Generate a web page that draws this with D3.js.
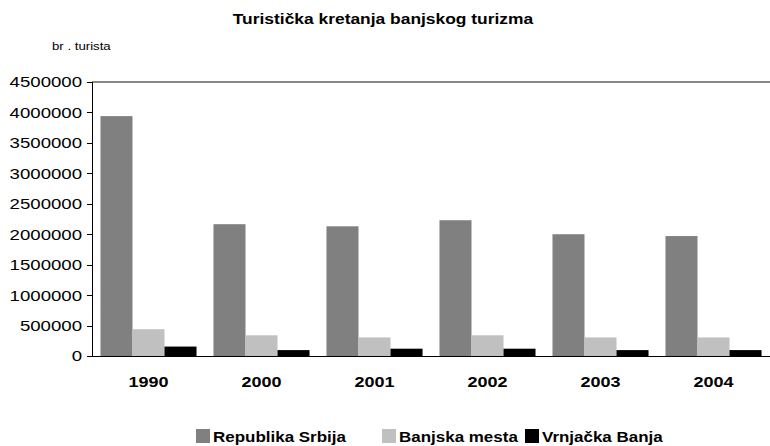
<!DOCTYPE html>
<meta charset="utf-8">
<style>
body { margin: 0; background: #fff; }
svg { font-family: "Liberation Sans", Arial, sans-serif; }
.axis path, .axis line { stroke: #000; shape-rendering: crispEdges; }
</style>
<body>
<script src="https://cdn.jsdelivr.net/npm/d3@7"></script>
<script>
// values
var years = ["1990", "2000", "2001", "2002", "2003", "2004"];
var srbija = [3940000, 2165000, 2130000, 2230000, 2000000, 1970000];
var banjska = [440000, 340000, 305000, 340000, 305000, 305000];
var vrnjacka = [155000, 97000, 120000, 120000, 97000, 97000];
var seriesNames = ["Republika Srbija", "Banjska mesta", "Vrnjačka Banja"];
var yTicks = [0, 500000, 1000000, 1500000, 2000000, 2500000, 3000000, 3500000, 4000000, 4500000];

var colors = ["#808080", "#c0c0c0", "#000000"];
var series = [srbija, banjska, vrnjacka];

var svg = d3.select("body").append("svg")
    .attr("width", 770)
    .attr("height", 446);

var plotLeft = 92, plotRight = 770, plotTop = 82, plotBottom = 356;

var x = d3.scaleBand().domain(years).range([plotLeft, plotRight])
    .paddingInner(0.15).paddingOuter(0.075);
var x1 = d3.scaleBand().domain(d3.range(3)).range([0, x.bandwidth()]);
var y = d3.scaleLinear().domain([0, 4500000]).range([plotBottom, plotTop]);

// the original text is a bit wider than Arial, stretch it
function stretch(sel, k) {
  sel.each(function() {
    var w = this.getComputedTextLength();
    d3.select(this).attr("textLength", w * k).attr("lengthAdjust", "spacingAndGlyphs");
  });
}

// title
svg.append("text")
    .attr("x", 383).attr("y", 24)
    .attr("text-anchor", "middle")
    .style("font-weight", "bold").style("font-size", "14.5px")
    .text("Turistička kretanja banjskog turizma")
    .call(stretch, 1.2);

svg.append("text")
    .attr("x", 52).attr("y", 50)
    .style("font-size", "11px")
    .text("br . turista")
    .call(stretch, 1.2);

// top frame line
svg.append("line")
    .attr("x1", plotLeft).attr("x2", plotRight)
    .attr("y1", plotTop).attr("y2", plotTop)
    .attr("stroke", "#888").attr("stroke-width", 2);

// bars
series.forEach(function(vals, s) {
  svg.append("g").selectAll("rect")
    .data(vals)
    .enter().append("rect")
      .attr("x", function(d, i) { return x(years[i]) + x1(s); })
      .attr("y", function(d) { return y(d); })
      .attr("width", x1.bandwidth())
      .attr("height", function(d) { return plotBottom - y(d); })
      .attr("fill", colors[s]);
});

// y axis
var gy = svg.append("g")
    .attr("class", "axis")
    .attr("transform", "translate(" + plotLeft + ",0)")
    .call(d3.axisLeft(y).tickValues(yTicks).tickSize(5).tickPadding(5).tickFormat(d3.format("d")));
gy.selectAll("text").style("font-size", "15.5px").attr("fill", "#000").call(stretch, 1.2);
gy.select(".domain").attr("d", "M0," + plotTop + "V" + plotBottom);

// x axis
var gx = svg.append("g")
    .attr("class", "axis")
    .attr("transform", "translate(0," + plotBottom + ")")
    .call(d3.axisBottom(x).tickSize(0).tickPadding(20));
gx.select(".domain").attr("d", "M" + plotLeft + ",0H" + plotRight);
gx.selectAll("text").style("font-size", "15px").style("font-weight", "bold").attr("fill", "#000")
    .call(stretch, 1.2);

// legend
var legendX = [196, 382, 525];
var lg = svg.append("g");
seriesNames.forEach(function(name, s) {
  lg.append("rect")
    .attr("x", legendX[s]).attr("y", 429)
    .attr("width", 14).attr("height", 14)
    .attr("fill", colors[s]);
  lg.append("text")
    .attr("x", legendX[s] + 17).attr("y", 442)
    .style("font-size", "14.5px").style("font-weight", "bold")
    .text(name)
    .call(stretch, 1.17);
});
</script>
</body>
